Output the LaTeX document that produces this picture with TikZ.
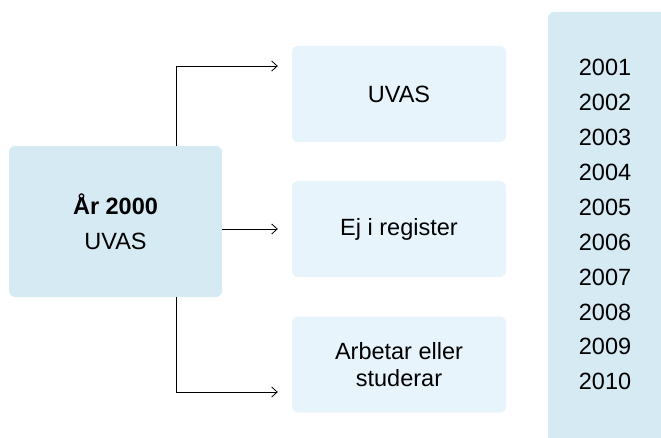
\documentclass[tikz,border=0pt]{standalone}
\usepackage{fontspec}
\setmainfont{Liberation Sans}
\usepackage{xcolor}
\usepackage{tikz}
\usetikzlibrary{arrows.meta}

\definecolor{boxblue}{RGB}{213,234,243}
\definecolor{paleblue}{RGB}{232,244,251}

\begin{document}
\begin{tikzpicture}[x=1pt,y=-1pt,
	every node/.style={font=\fontsize{23.5}{28}\selectfont},
	startbox/.style={fill=boxblue, rounded corners=6pt, minimum width=213pt, minimum height=151pt, align=center, inner sep=0pt},
	outbox/.style={fill=paleblue, rounded corners=6pt, minimum width=214pt, minimum height=96pt, align=center, inner sep=0pt},
	link/.style={line width=0.8pt, -{Straight Barb[length=5.5pt,width=10pt]}, shorten >=14pt}]
	\useasboundingbox (0,0) rectangle (661,438);
	\clip (0,0) rectangle (661,438);
	
	% year column, runs off the page
	\fill[boxblue, rounded corners=6pt] (548,12) rectangle (690,470);
	\foreach \yr [count=\i from 0] in {2001,2002,2003,2004,2005,2006,2007,2008,2009,2010}
		\node (y\yr) at (605,{67.7+34.9*\i}) {\yr};
	
	\node[startbox, font=\fontsize{23.5}{35}\selectfont] (start) at (115.5,221.5) {\textbf{År 2000}\\UVAS};
	
	\node[outbox] (uvas) at (399,94) {UVAS};
	\node[outbox] (register) at (399,229) {Ej i register};
	\node[outbox, font=\fontsize{23.5}{27}\selectfont] (study) at (399,364.5) {Arbetar eller\\studerar};
	
	\draw[link] ([xshift=-46pt]start.north east) |- ([yshift=28pt]uvas.west);
	\draw[link] (start.east |- register.west) -- (register.west);
	\draw[link] ([xshift=-46pt]start.south east) |- ([yshift=-27.5pt]study.west);
\end{tikzpicture}
\end{document}
